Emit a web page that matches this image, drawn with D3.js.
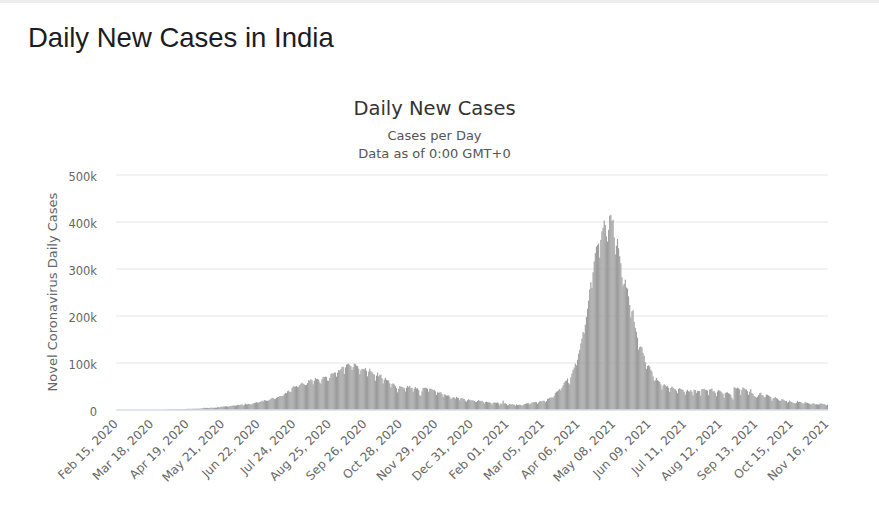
<!DOCTYPE html>
<html>
<head>
<meta charset="utf-8">
<script src="https://cdn.jsdelivr.net/npm/d3@7"></script>
<style>
  html, body { margin: 0; padding: 0; background: #fff; }
  svg { display: block; }
</style>
</head>
<body>
<svg id="chart" width="879" height="507"></svg>
<script>
// ---- Data (daily new cases, India, Feb 15 2020 – Nov 16 2021) ----
const startDate = new Date(2020, 1, 15);

const cases2020 = [
  // Feb 15–29
  0,0,0,0,0,0,0,0,0,0,0,0,0,0,0,
  // Mar
  0,2,1,22,2,1,3,5,4,13,6,11,9,20,11,6,23,14,38,50,86,66,103,37,121,70,160,100,82,227,146,
  // Apr
  601,545,478,577,743,544,569,593,896,896,768,918,1178,1061,922,1076,1007,1324,1540,1334,1540,1290,1667,1408,1835,1607,1561,1873,1738,1801,
  // May
  2394,2442,2806,3932,2963,3587,3364,3344,3113,4353,3607,3524,3763,3942,3787,4864,5050,4630,6147,5553,6198,6568,6629,7113,6414,5843,7293,7300,8105,8380,8789,
  // Jun
  7723,8821,9633,9889,9471,10438,10864,8442,9987,12375,10956,11306,12039,11503,11237,10667,13103,13586,14516,15403,14821,14933,15968,16922,18552,17296,19906,19459,18522,18653,
  // Jul
  19148,20903,22771,24850,24248,22252,22752,24879,26506,27114,28637,28701,28498,29429,32695,34956,34884,38902,40425,37148,37724,45720,49310,48916,48661,49931,47703,48513,52123,55079,57118,
  // Aug
  54735,52972,52050,52509,56282,62538,61537,64399,62064,53601,60963,66999,64553,65002,63490,57981,55079,64531,69652,68898,69878,69239,61408,60975,67151,75760,77266,76472,78761,78512,69921,
  // Sep
  78357,83883,83341,86432,90632,90802,75809,89706,95735,96551,97570,94372,92071,83809,90123,97894,96424,93337,92605,86961,75083,83347,86508,86052,85362,88600,82170,70589,80472,86821,
  // Oct
  81484,79476,75829,74442,61267,72049,78524,70496,73272,74383,66732,55342,63509,67708,63371,62212,61871,55722,46790,54044,55839,53370,50129,45148,36470,43893,49881,48648,48268,46963,45231,
  // Nov
  38310,46254,50210,47638,50356,45674,45903,38074,44281,47905,44879,44878,41100,30548,29164,38617,45576,45882,46232,45209,44059,37975,44376,44489,43082,41322,41810,38772,31118,36604,
  // Dec
  35668,36594,36652,32981,26567,32080,31522,29398,30006,30254,27071,22065,24010,26382,25152,22890,26624,25153,24337,19556,23950,24712,23067,22273,18732,16432,20021,21821,20549,19079,20035
];

const cases2021 = [
  // Jan
  19078,18177,16504,16375,18088,20346,18139,18222,18645,16311,12584,15968,16946,15590,15158,15144,13788,10064,13823,15223,14545,14256,14849,13203,9102,12689,11666,18855,13083,13052,11427,
  // Feb
  8635,10039,11899,10713,11059,10831,10067,8110,10923,9610,10143,10194,9649,8121,9610,11193,11881,12993,13264,13199,10584,12742,14738,15577,15488,16327,15510,12286,
  // Mar
  14989,17407,18327,16838,18711,18599,15388,17921,22854,23285,24882,25320,26291,24492,28903,34871,37726,38953,40846,43951,40715,46262,51476,57118,60258,61714,66020,56211,53480,68330,76466,
  // Apr
  84129,89249,97558,93982,105736,118789,126968,140384,150879,164912,161736,180372,196739,214353,231692,255500,270810,259170,292041,314835,332730,346786,349691,352991,323144,360960,379257,386452,401993,392488,
  // May
  368147,357229,382315,412262,414188,401078,403738,366161,329942,348421,362727,343144,326098,311170,281386,263533,267334,276070,259551,257299,240842,222315,195815,208921,211298,186364,173790,165553,152734,127510,132788,
  // Jun
  134154,132364,120529,114460,100636,86498,92596,94052,91702,84332,80834,70421,60471,62224,67208,62480,60753,58419,53256,42640,50848,54069,51667,48698,50040,46148,37566,45951,48786,46617,
  // Jul
  44111,43071,39796,34703,43733,45892,43393,42766,41506,37154,31443,38792,41806,38949,38079,41157,38164,30093,42015,41383,35342,39097,39742,39361,29689,43654,43509,44230,41649,41831,40134,
  // Aug
  30549,42625,42982,44643,38628,39070,35499,28204,38353,41195,40120,38667,36083,32937,25166,35178,36401,36571,34457,33500,30948,25072,21000,47500,46164,44658,46759,45083,42909,30941,41965,
  // Sep
  47092,45352,42618,42766,38948,31222,37875,43263,34973,33376,28591,27254,25404,27176,30570,34403,35662,30773,30256,26115,26964,31923,31382,29616,28326,26041,18795,23529,24354,26727,
  // Oct
  24354,22842,20799,18346,18833,22431,21257,19740,18166,18132,14313,15823,18987,16862,15981,14146,13596,13058,14623,18454,15786,16326,15906,14306,12428,13451,16156,14348,14313,12830,12514,
  // Nov 1–16
  10423,11903,12885,12729,10929,11451,10853,10126,11466,13091,12516,11850,11271,10229,8865,10197
];

const tickLabels = [
  "Feb 15, 2020","Mar 18, 2020","Apr 19, 2020","May 21, 2020","Jun 22, 2020",
  "Jul 24, 2020","Aug 25, 2020","Sep 26, 2020","Oct 28, 2020","Nov 29, 2020",
  "Dec 31, 2020","Feb 01, 2021","Mar 05, 2021","Apr 06, 2021","May 08, 2021",
  "Jun 09, 2021","Jul 11, 2021","Aug 12, 2021","Sep 13, 2021","Oct 15, 2021",
  "Nov 16, 2021"
];
const yTicks = [0, 100000, 200000, 300000, 400000, 500000];

const dailyCases = cases2020.concat(cases2021);
const fmtDate = d3.timeFormat("%b %d, %Y");
const categories = dailyCases.map((_, i) => fmtDate(d3.timeDay.offset(startDate, i)));
const series = categories.map((c, i) => ({ cat: c, value: dailyCases[i] }));

// ---- Layout ----
const svg = d3.select("#chart");
const plotLeft = 116, plotRight = 828, plotTop = 174.5, plotBottom = 409.5;
const chartFont = "'DejaVu Sans', 'Lucida Grande', sans-serif";

svg.append("rect").attr("x", 0).attr("y", 0).attr("width", 879).attr("height", 3).attr("fill", "#ededed");

svg.append("text")
  .attr("x", 28).attr("y", 46.5)
  .attr("font-family", "'Liberation Sans', Arial, sans-serif")
  .attr("font-size", 27.5)
  .attr("fill", "#1c1c24")
  .text("Daily New Cases in India");

const cx = 434.5;
svg.append("text").attr("x", cx).attr("y", 115).attr("text-anchor", "middle")
  .attr("font-family", chartFont).attr("font-size", 19.5).attr("fill", "#333333")
  .text("Daily New Cases");
svg.append("text").attr("x", cx).attr("y", 140).attr("text-anchor", "middle")
  .attr("font-family", chartFont).attr("font-size", 13).attr("fill", "#555555")
  .text("Cases per Day");
svg.append("text").attr("x", cx).attr("y", 157.5).attr("text-anchor", "middle")
  .attr("font-family", chartFont).attr("font-size", 13).attr("fill", "#555555")
  .text("Data as of 0:00 GMT+0");

// ---- Scales ----
const x = d3.scaleBand().domain(categories).range([plotLeft, plotRight]).padding(0);
const y = d3.scaleLinear().domain([0, 500000]).range([plotBottom, plotTop]);

// Y axis with gridlines
const yAxis = d3.axisLeft(y)
  .tickValues(yTicks)
  .tickFormat(d => d === 0 ? "0" : (d / 1000) + "k")
  .tickSizeInner(-(plotRight - plotLeft))
  .tickSizeOuter(0)
  .tickPadding(19);
const gy = svg.append("g").attr("transform", `translate(${plotLeft},0)`).call(yAxis);
gy.select(".domain").remove();
gy.selectAll(".tick line").attr("stroke", "#e6e6e6");
gy.selectAll(".tick text")
  .attr("font-family", chartFont).attr("font-size", 11.5).attr("fill", "#666666")
  .attr("dy", "0.52em");

// Y title
svg.append("text")
  .attr("transform", "translate(57,292) rotate(-90)")
  .attr("text-anchor", "middle")
  .attr("font-family", chartFont).attr("font-size", 13).attr("fill", "#666666")
  .text("Novel Coronavirus Daily Cases");

// Bars
svg.append("g").selectAll("rect").data(series).join("rect")
  .attr("x", d => x(d.cat))
  .attr("width", x.bandwidth())
  .attr("y", d => y(d.value))
  .attr("height", d => plotBottom - y(d.value))
  .attr("fill", "#9c9c9c");

// X axis
const xAxis = d3.axisBottom(x).tickValues(tickLabels).tickSize(0).tickSizeOuter(0);
const gx = svg.append("g").attr("transform", `translate(0,${plotBottom})`).call(xAxis);
gx.select(".domain").attr("stroke", "#ccd6eb");
gx.selectAll(".tick text")
  .attr("x", 0).attr("y", 0).attr("dy", 0)
  .attr("text-anchor", "end")
  .attr("transform", "translate(2,15) rotate(-45)")
  .attr("font-family", chartFont).attr("font-size", 12).attr("fill", "#666666");
</script>
</body>
</html>
